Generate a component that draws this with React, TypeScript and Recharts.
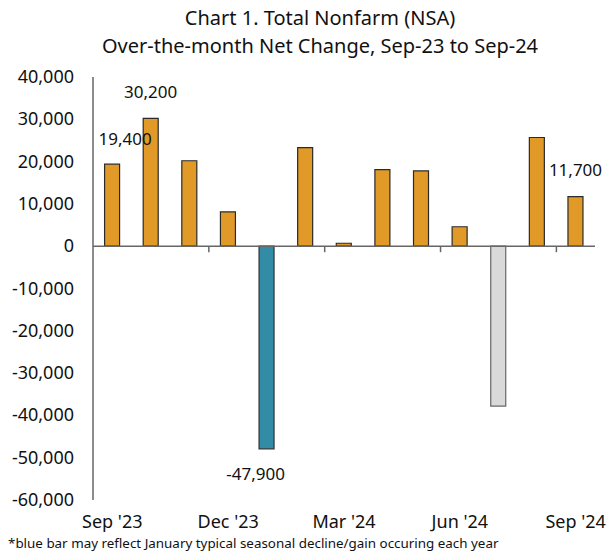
import React from "react";
import { BarChart, Bar, XAxis, YAxis, Cell, LabelList, ReferenceLine } from "recharts";

const months = ["Sep '23", "Oct '23", "Nov '23", "Dec '23", "Jan '24", "Feb '24", "Mar '24", "Apr '24", "May '24", "Jun '24", "Jul '24", "Aug '24", "Sep '24"];
const netChange = [19400, 30200, 20200, 8100, -47900, 23300, 700, 18100, 17800, 4600, -37800, 25700, 11700];
const barKinds = ["gain", "gain", "gain", "gain", "january", "gain", "gain", "gain", "gain", "gain", "other", "gain", "gain"];
const showLabel = [true, true, false, false, true, false, false, false, false, false, false, false, true];
const yTicks = [-60000, -50000, -40000, -30000, -20000, -10000, 0, 10000, 20000, 30000, 40000];

const title1 = "Chart 1. Total Nonfarm (NSA)";
const title2 = "Over-the-month Net Change, Sep-23 to Sep-24";
const footnote = "*blue bar may reflect January typical seasonal decline/gain occuring each year";

const FONT = "'Noto Sans', sans-serif";
const fillFor: Record<string, string> = { gain: "#E19A27", january: "#338CA6", other: "#D9D9D9" };
const strokeFor: Record<string, string> = { gain: "#2a2a2a", january: "#333333", other: "#666666" };
const labelShift: Record<number, [number, number]> = { 0: [13, -25], 1: [0, -26], 4: [-11, 25], 12: [0, -27] };

const data = months.map((m, i) => ({ month: m, value: netChange[i], kind: barKinds[i], show: showLabel[i], idx: i }));

const fmt = (v: number) => v.toLocaleString("en-US");

const XTick = (props: any) => {
  const { x, y, payload } = props;
  return (
    <text x={x} y={y + 20} textAnchor="middle" fontFamily={FONT} fontSize={18} fill="#111">
      {payload.value}
    </text>
  );
};

const YTick = (props: any) => {
  const { x, y, payload } = props;
  return (
    <text x={x} y={y + 6} textAnchor="end" fontFamily={FONT} fontSize={18} fill="#111">
      {fmt(payload.value)}
    </text>
  );
};

const ZeroLine = (props: any) => {
  const { x1, y1, x2, y2 } = props;
  const n = months.length;
  const step = (x2 - x1) / n;
  const marks = [3, 6, 9, 12];
  return (
    <g>
      <line x1={x1} y1={y1} x2={x2} y2={y2} stroke="#666" strokeWidth={1.5} />
      {marks.map((k) => (
        <line key={k} x1={x1 + k * step} x2={x1 + k * step} y1={y1} y2={y1 + 6} stroke="#666" strokeWidth={1.5} />
      ))}
    </g>
  );
};

const DataLabel = (props: any) => {
  const { x, y, width, height, index, value } = props;
  if (!showLabel[index]) return null;
  const [dx, dy] = labelShift[index] || [0, -25];
  const cx = x + width / 2 + dx;
  const edge = value >= 0 ? Math.min(y, y + height) : Math.max(y, y + height);
  return (
    <text x={cx} y={edge + dy + 6} textAnchor="middle" fontFamily={FONT} fontSize={17} fill="#111">
      {fmt(value)}
    </text>
  );
};

export default function App() {
  return (
    <div style={{ position: "absolute", left: 0, top: 0, width: 616, height: 554, background: "#fff", fontFamily: FONT }}>
      <div style={{ position: "absolute", left: 0, width: 640, top: 4, textAlign: "center", fontSize: 20, lineHeight: "27px", color: "#111", whiteSpace: "nowrap" }}>
        {title1}
      </div>
      <div style={{ position: "absolute", left: 0, width: 640, top: 32, textAlign: "center", fontSize: 20, lineHeight: "27px", color: "#111", whiteSpace: "nowrap" }}>
        {title2}
      </div>
      <BarChart
        width={616}
        height={554}
        data={data}
        margin={{ top: 77, right: 21, left: 0, bottom: 24 }}
        barCategoryGap="30%"
      >
        <XAxis dataKey="month" interval={2} tick={<XTick />} axisLine={false} tickLine={false} height={30} />
        <YAxis
          domain={[-60000, 40000]}
          ticks={yTicks}
          width={93}
          tick={<YTick />}
          tickLine={false}
          tickSize={0}
          tickMargin={19}
          axisLine={{ stroke: "#666", strokeWidth: 1.5 }}
          allowDataOverflow
        />
        <Bar dataKey="value" isAnimationActive={false}>
          {data.map((d, i) => (
            <Cell key={i} fill={fillFor[d.kind]} stroke={strokeFor[d.kind]} strokeWidth={1.2} />
          ))}
          <LabelList dataKey="value" content={<DataLabel />} />
        </Bar>
        <ReferenceLine y={0} shape={<ZeroLine />} />
      </BarChart>
      <div style={{ position: "absolute", left: 8, top: 534, fontSize: 13.4, color: "#111", whiteSpace: "nowrap" }}>{footnote}</div>
    </div>
  );
}
